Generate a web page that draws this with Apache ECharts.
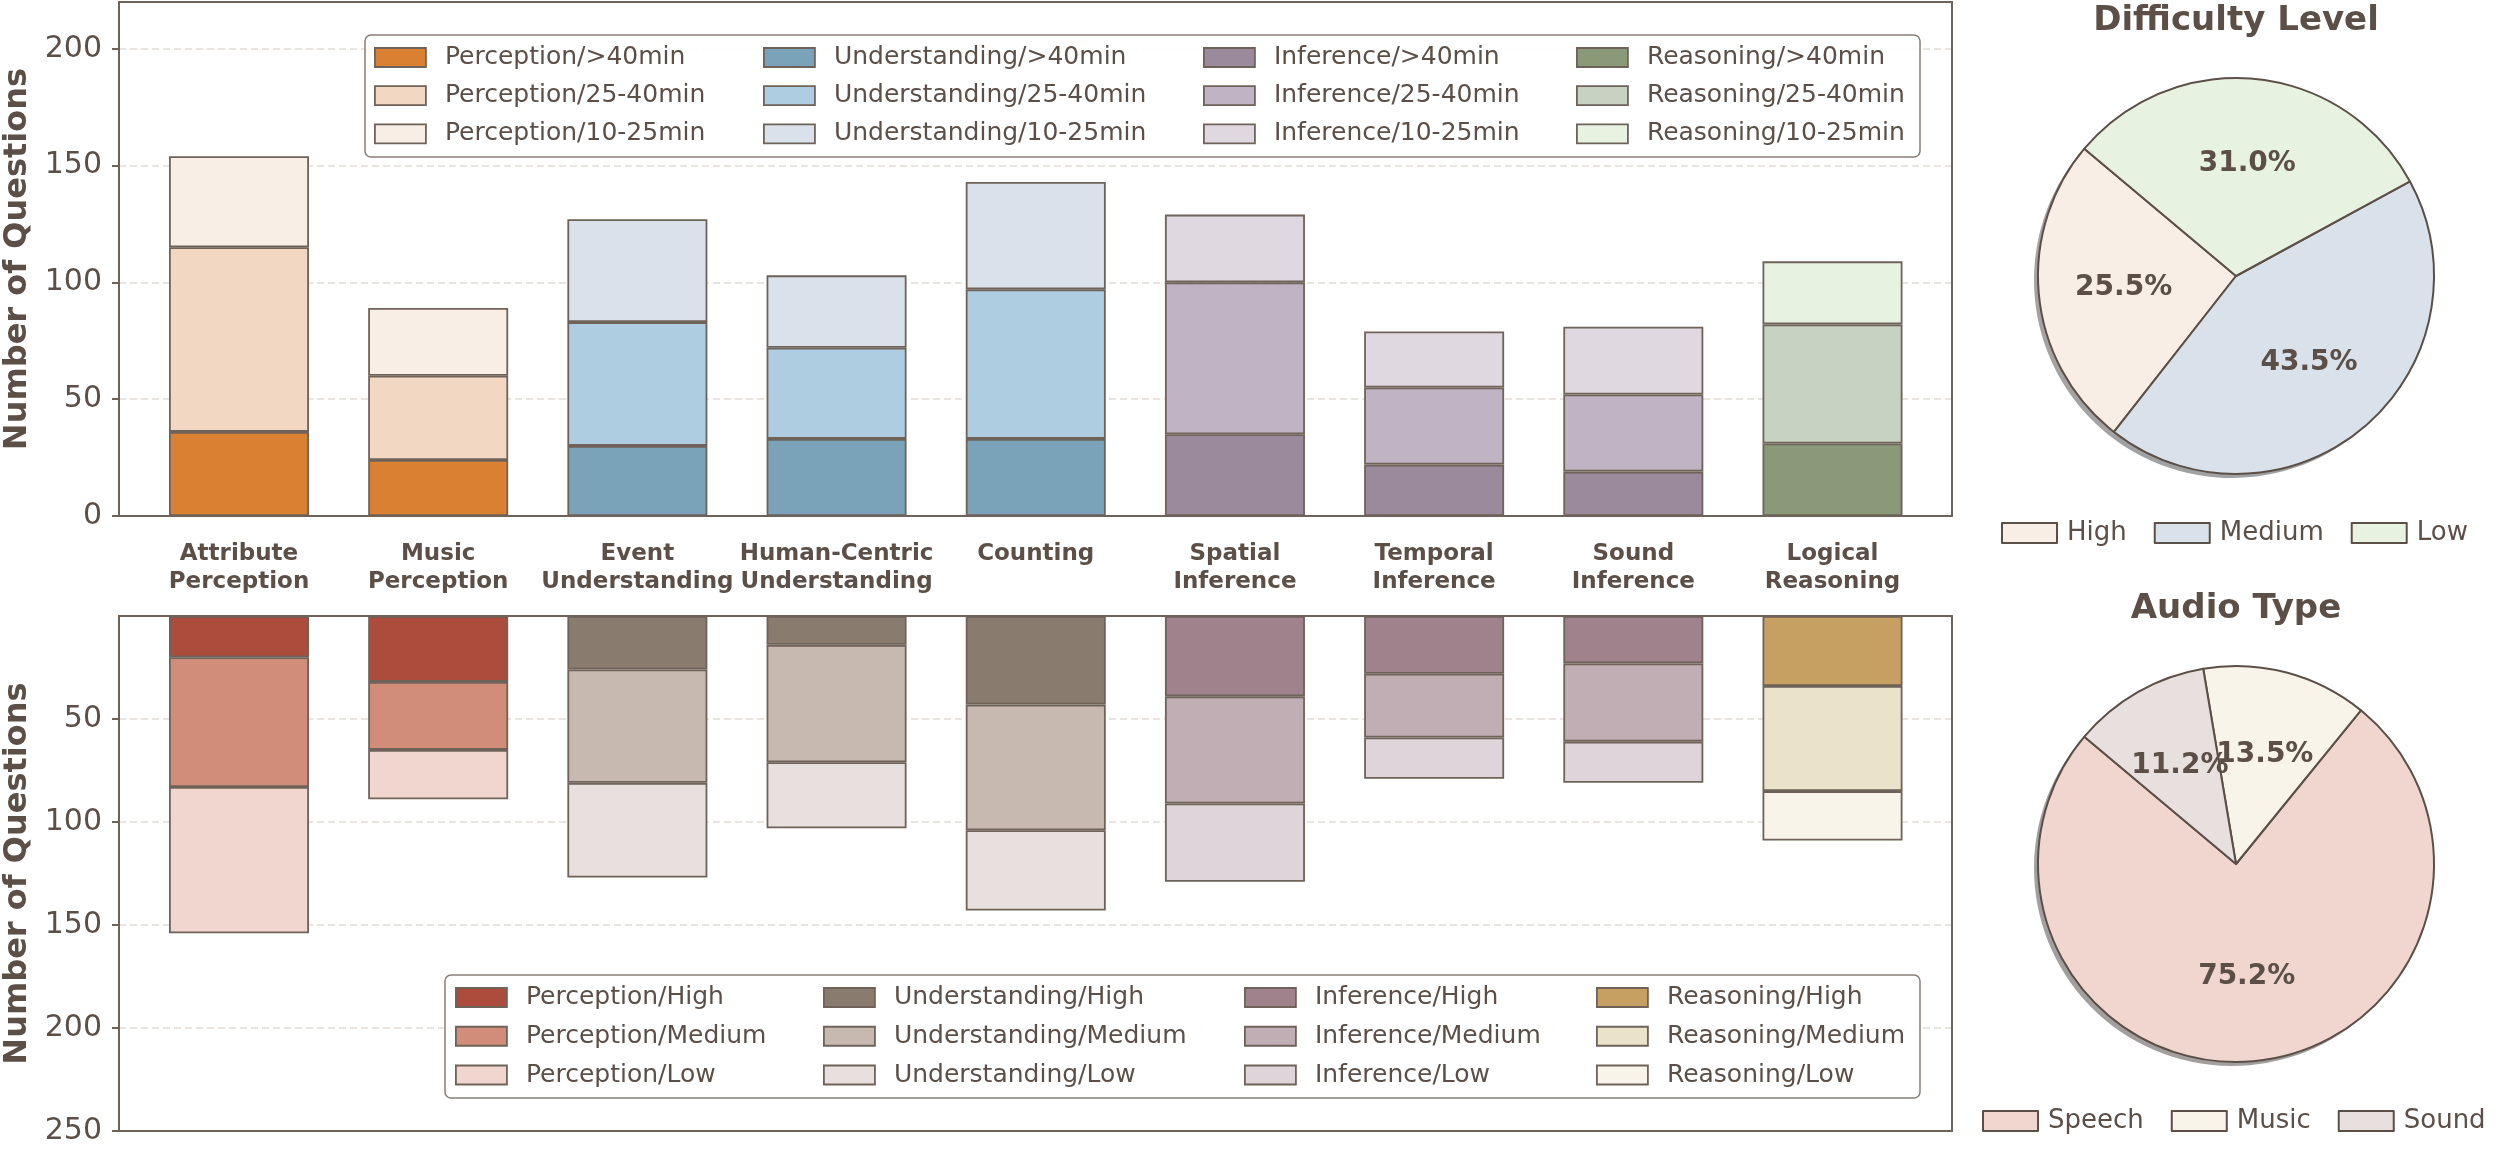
<!DOCTYPE html>
<html><head><meta charset="utf-8">
<script src="https://cdn.jsdelivr.net/npm/echarts@6/dist/echarts.min.js"></script>
<style>html,body{margin:0;padding:0;background:#fff}#c{width:2501px;height:1150px}</style>
</head><body><div id="c"></div>
<script>
// ---------------- DATA ----------------
const categories = ['Attribute\nPerception','Music\nPerception','Event\nUnderstanding','Human-Centric\nUnderstanding','Counting','Spatial\nInference','Temporal\nInference','Sound\nInference','Logical\nReasoning'];
const groups = ['Perception','Understanding','Inference','Reasoning'];
const categoryGroup = [0,0,1,1,1,2,2,2,3];
const durationLevels = ['>40min','25-40min','10-25min'];
const duration40plus = [36,24,30,33,33,35,22,19,31];
const duration25to40 = [79,36,53,39,64,65,33,33,51];
const duration10to25 = [39,29,44,31,46,29,24,29,27];
const difficultyLevels = ['High','Medium','Low'];
const difficultyHigh = [20,32,26,14,43,39,28,23,34];
const difficultyMedium = [63,33,55,57,61,52,31,38,51];
const difficultyLow = [71,24,46,32,39,38,20,20,24];
const difficultyCounts = [259,441,314];
const audioTypes = ['Speech','Music','Sound'];
const audioCounts = [763,137,114];
const upperTicks = [0,50,100,150,200];
const lowerTicks = [50,100,150,200,250];

// ---------------- STYLE ----------------
const TXT = '#5b4f47', SPINE = '#6e6259', EDGE = '#6e6259', GRIDC = '#e4dbd7';
const FONT = 'DejaVu Sans';
const durColors = [
  ['#d98032','#f2d8c3','#f8eee5'],
  ['#7aa3b9','#aecde0','#d9e2ea'],
  ['#9b8a9c','#c0b3c3','#dfd8e1'],
  ['#8a9978','#c8d2c2','#e8f2e1']
];
const diffColors = [
  ['#ab4c3c','#d28d7a','#f0d6cf'],
  ['#8a7b6f','#c8b9b0','#e8e0de'],
  ['#a0828c','#c1aeb5','#dfd4d9'],
  ['#c5a062','#ebe3c9','#f8f4ea']
];
const diffPieColors = ['#f8eee5','#d9e2ea','#e8f2e1'];
const audioPieColors = ['#f0d6cf','#f8f4ea','#e8e0de'];

function shadowColor(hex){
  const r=parseInt(hex.slice(1,3),16),g=parseInt(hex.slice(3,5),16),b=parseInt(hex.slice(5,7),16);
  return 'rgba('+Math.round(r*0.3)+','+Math.round(g*0.3)+','+Math.round(b*0.3)+',0.5)';
}

const durValues = [duration40plus, duration25to40, duration10to25];
const diffValues = [difficultyHigh, difficultyMedium, difficultyLow];

// ---------------- LAYOUT ----------------
const OUT_L = 119, OUT_W = 1833;
const IN_L = 139.4, IN_W = 1792.7;
const UP_T = 2, UP_H = 514, LO_T = 616, LO_H = 515;

const grids = [
  {left:OUT_L, top:UP_T, width:OUT_W, height:UP_H, outerBoundsMode:'none', containLabel:false},
  {left:IN_L, top:UP_T, width:IN_W, height:UP_H, outerBoundsMode:'none', containLabel:false},
  {left:OUT_L, top:LO_T, width:OUT_W, height:LO_H, outerBoundsMode:'none', containLabel:false},
  {left:IN_L, top:LO_T, width:IN_W, height:LO_H, outerBoundsMode:'none', containLabel:false}
];

function spineX(gi, pos){
  return {gridIndex:gi, type:'value', min:0, max:1, position:pos, z:5,
    axisLine:{show:true, onZero:false, lineStyle:{color:SPINE, width:2}},
    axisTick:{show:false}, axisLabel:{show:false}, splitLine:{show:false}};
}
function spineY(gi, pos, max, inverse){
  return {gridIndex:gi, type:'value', min:0, max:max, position:pos, inverse:inverse, z:5,
    axisLine:{show:true, onZero:false, lineStyle:{color:SPINE, width:2}},
    axisTick:{show:false}, axisLabel:{show:false}, splitLine:{show:false}};
}
function mainY(gi, max, inverse, ticks){
  return {gridIndex:gi, type:'value', min:0, max:max, interval:50, position:'left', inverse:inverse, z:5,
    axisLine:{show:true, onZero:false, lineStyle:{color:SPINE, width:2}},
    axisTick:{show:true, length:7, lineStyle:{color:SPINE, width:2}, customValues:ticks},
    axisLabel:{show:true, fontSize:30, color:TXT, fontFamily:FONT, margin:17, customValues:ticks},
    splitLine:{show:false},
    name:'Number of Questions', nameLocation:'middle', nameGap:79, nameRotate:90,
    nameTextStyle:{fontSize:32, fontWeight:'bold', color:TXT, fontFamily:FONT}};
}
function splitY(gi, max, inverse){
  return {gridIndex:gi, type:'value', min:0, max:max, interval:50, position:'left', inverse:inverse, z:0,
    axisLine:{show:false}, axisTick:{show:false}, axisLabel:{show:false},
    splitLine:{show:true, showMinLine:false, showMaxLine:false, lineStyle:{color:GRIDC, width:1.5, type:[7,4]}}};
}
function innerY(gi, max, inverse){
  return {gridIndex:gi, type:'value', min:0, max:max, inverse:inverse, show:false,
    axisLine:{show:false}, axisTick:{show:false}, axisLabel:{show:false}, splitLine:{show:false}};
}

const xAxes = [
  spineX(0,'bottom'), spineX(0,'top'),
  {gridIndex:1, type:'category', data:categories, position:'bottom',
    axisLine:{show:false}, axisTick:{show:false}, splitLine:{show:false},
    axisLabel:{show:true, interval:0, fontSize:23, fontWeight:'bold', lineHeight:28, color:TXT, fontFamily:FONT, margin:24}},
  spineX(2,'bottom'), spineX(2,'top'),
  {gridIndex:3, type:'category', data:categories, position:'top',
    axisLine:{show:false}, axisTick:{show:false}, splitLine:{show:false}, axisLabel:{show:false}}
];
const yAxes = [
  mainY(0,220,false,upperTicks), spineY(0,'right',220,false), splitY(0,220,false), innerY(1,220,false),
  mainY(2,250,true,lowerTicks), spineY(2,'right',250,true), splitY(2,250,true), innerY(3,250,true)
];

const series = [];
groups.forEach((g, gi) => {
  durationLevels.forEach((lv, li) => {
    series.push({type:'bar', name:g+'/'+lv, xAxisIndex:2, yAxisIndex:3, stack:'up', barWidth:140,
      data: categories.map((c,i)=> categoryGroup[i]===gi ? durValues[li][i] : '-'),
      itemStyle:{color:durColors[gi][li], borderColor:EDGE, borderWidth:1.8},
      emphasis:{disabled:true}});
  });
});
groups.forEach((g, gi) => {
  difficultyLevels.forEach((lv, li) => {
    series.push({type:'bar', name:g+'/'+lv, xAxisIndex:5, yAxisIndex:7, stack:'down', barWidth:140,
      data: categories.map((c,i)=> categoryGroup[i]===gi ? diffValues[li][i] : '-'),
      itemStyle:{color:diffColors[gi][li], borderColor:EDGE, borderWidth:1.8},
      emphasis:{disabled:true}});
  });
});

function pieSet(names, counts, colors, cx, cy){
  const total = counts.reduce((a,b)=>a+b,0);
  const R = 198;
  const base = {type:'pie', startAngle:140, clockwise:false, avoidLabelOverlap:false, animation:false,
    labelLine:{show:false}, emphasis:{disabled:true}, labelLayout:{hideOverlap:false}};
  const out = [
    Object.assign({}, base, {center:[cx,cy], radius:R, z:3,
      data:names.map((n,i)=>({name:n, value:counts[i], itemStyle:{color:colors[i]}})),
      itemStyle:{borderColor:TXT, borderWidth:2}, label:{show:false}}),
    Object.assign({}, base, {center:[cx-4,cy+4], radius:R, z:1, silent:true,
      data:names.map((n,i)=>({name:n, value:counts[i], itemStyle:{color:shadowColor(colors[i])}})),
      itemStyle:{borderWidth:0}, label:{show:false}})
  ];
  // one transparent label layer per slice so close labels are never dropped
  names.forEach((nm, k) => {
    out.push(Object.assign({}, base, {center:[cx,cy], radius:[22,R], z:4+k, silent:true,
      data:names.map((n,i)=>({name:n, value:counts[i], itemStyle:{color:'rgba(0,0,0,0)'},
        label:{show:i===k}})),
      itemStyle:{borderWidth:0},
      label:{position:'inside', fontSize:28, fontWeight:'bold', color:TXT, fontFamily:FONT,
        formatter:(p)=> (p.value/total*100).toFixed(1)+'%'}}));
  });
  return out;
}
series.push(...pieSet(difficultyLevels, difficultyCounts, diffPieColors, 2236, 276));
series.push(...pieSet(audioTypes, audioCounts, audioPieColors, 2236, 864));

const legends = [];
const upCols = [374,763,1203,1576], loCols = [455,823,1244,1596];
groups.forEach((g, gi) => {
  legends.push({orient:'vertical', left:upCols[gi], top:45, padding:0, itemGap:13.2,
    icon:'rect', itemWidth:51, itemHeight:19, selectedMode:false, z:6,
    data: durationLevels.map((lv,li)=>({name:g+'/'+lv, itemStyle:{color:durColors[gi][li], borderColor:EDGE, borderWidth:1.8}})),
    textStyle:{fontSize:25, lineHeight:25, color:TXT, fontFamily:FONT, padding:[0,0,0,14]}});
  legends.push({orient:'vertical', left:loCols[gi], top:985, padding:0, itemGap:13.75,
    icon:'rect', itemWidth:51, itemHeight:19, selectedMode:false, z:6,
    data: difficultyLevels.map((lv,li)=>({name:g+'/'+lv, itemStyle:{color:diffColors[gi][li], borderColor:EDGE, borderWidth:1.8}})),
    textStyle:{fontSize:25, lineHeight:25, color:TXT, fontFamily:FONT, padding:[0,0,0,14]}});
});
legends.push({orient:'horizontal', left:2001, top:520, padding:0, itemGap:27, icon:'rect', itemWidth:55, itemHeight:20, selectedMode:false,
  data: difficultyLevels.map((n,i)=>({name:n, itemStyle:{color:diffPieColors[i], borderColor:TXT, borderWidth:2}})),
  textStyle:{fontSize:26, lineHeight:26, color:TXT, fontFamily:FONT, padding:[0,0,0,5]}});
legends.push({orient:'horizontal', left:1982, top:1108, padding:0, itemGap:27, icon:'rect', itemWidth:55, itemHeight:20, selectedMode:false,
  data: audioTypes.map((n,i)=>({name:n, itemStyle:{color:audioPieColors[i], borderColor:TXT, borderWidth:2}})),
  textStyle:{fontSize:26, lineHeight:26, color:TXT, fontFamily:FONT, padding:[0,0,0,5]}});

const chart = echarts.init(document.getElementById('c'), null, {renderer:'canvas'});
chart.setOption({
  animation:false,
  backgroundColor:'#ffffff',
  textStyle:{fontFamily:FONT},
  title:[
    {text:'Difficulty Level', left:2236, top:4, textAlign:'center', padding:0,
      textStyle:{fontSize:34, fontWeight:'bold', color:TXT, fontFamily:FONT}},
    {text:'Audio Type', left:2236, top:592, textAlign:'center', padding:0,
      textStyle:{fontSize:34, fontWeight:'bold', color:TXT, fontFamily:FONT}}
  ],
  grid:grids, xAxis:xAxes, yAxis:yAxes, series:series, legend:legends,
  graphic:[
    {type:'rect', z:3, shape:{x:365, y:35, width:1555, height:122, r:6},
      style:{fill:'rgba(255,255,255,0.9)', stroke:'#8a7f78', lineWidth:1.5}},
    {type:'rect', z:3, shape:{x:445, y:975, width:1475, height:123, r:6},
      style:{fill:'rgba(255,255,255,0.9)', stroke:'#8a7f78', lineWidth:1.5}}
  ]
});
</script></body></html>
